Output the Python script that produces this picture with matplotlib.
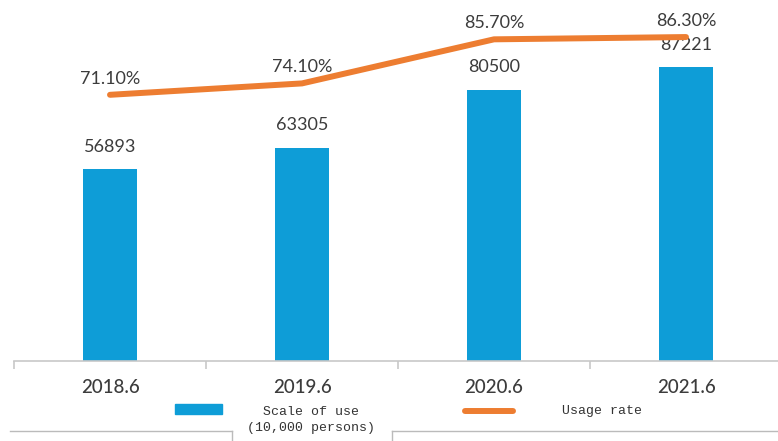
import matplotlib
matplotlib.use('Agg')
import matplotlib.pyplot as plt
from matplotlib.patches import Rectangle
from matplotlib.lines import Line2D

periods = ['2018.6', '2019.6', '2020.6', '2021.6']
users = [56893, 63305, 80500, 87221]          # scale of use, 10,000 persons
rate = [71.1, 74.1, 85.7, 86.3]               # usage rate, %
rate_labels = ['71.10%', '74.10%', '85.70%', '86.30%']

blue = '#0E9DD7'
orange = '#ED7D31'
grey = '#3C3C3C'

plt.rcParams['font.family'] = ['Lato', 'DejaVu Sans']

W, H = 778, 441
fig = plt.figure(figsize=(W/100, H/100), dpi=100)
ax = fig.add_axes([14/W, 80/H, 768/W, 361/H])

x = list(range(len(periods)))
ax.bar(x, users, width=0.28, color=blue, zorder=2)
ax.set_xlim(-0.5, 3.5)
ax.set_ylim(0, 107100)

for i, v in enumerate(users):
    ax.annotate(str(v), (i, v), xytext=(0, 16), textcoords='offset points',
                ha='center', va='center', fontsize=13, color=grey)

# axis styling
for s in ['top', 'left', 'right']:
    ax.spines[s].set_visible(False)
ax.spines['bottom'].set_color('#C8C8C8')
ax.spines['bottom'].set_linewidth(1.2)
ax.set_yticks([])
ax.set_xticks(x)
ax.set_xticklabels(periods, fontsize=13.5, color=grey, fontweight='medium')
ax.tick_params(axis='x', which='major', length=0, pad=13)
ax.set_xticks([-0.5, 0.5, 1.5, 2.5, 3.5], minor=True)
ax.tick_params(axis='x', which='minor', length=6, color='#C8C8C8', width=1.2)

ax2 = ax.twinx()
ax2.plot(x, rate, color=orange, lw=4.3, solid_capstyle='round',
         solid_joinstyle='round', zorder=3)
ax2.set_ylim(1.05, 96.05)
ax2.set_yticks([])
for s in ax2.spines.values():
    s.set_visible(False)
for i, (r, lab) in enumerate(zip(rate, rate_labels)):
    ax2.annotate(lab, (i, r), xytext=(0, 11.5), textcoords='offset points',
                 ha='center', va='center', fontsize=13, color=grey)

# legend drawn by hand below the axis
fig.add_artist(Rectangle((175/W, 1 - 414/H), 47/W, 10/H, transform=fig.transFigure,
                         color=blue))
fig.add_artist(Line2D([465/W, 513/W], [1 - 411/H] * 2, transform=fig.transFigure,
                      color=orange, lw=4.3, solid_capstyle='round'))
fig.text(311/W, 1 - 420/H, 'Scale of use\n(10,000 persons)', ha='center', va='center',
         family='Liberation Mono', fontsize=9.5, color='#333333', linespacing=1.45)
fig.text(562/W, 1 - 411/H, 'Usage rate', ha='left', va='center',
         family='Liberation Mono', fontsize=9.5, color='#333333')

# thin frame lines around legend area
lc = '#BBBBBB'
fig.add_artist(Line2D([10/W, 232/W], [1 - 431/H] * 2, transform=fig.transFigure, color=lc, lw=1))
fig.add_artist(Line2D([392/W, 1], [1 - 431/H] * 2, transform=fig.transFigure, color=lc, lw=1))
fig.add_artist(Line2D([232/W, 232/W], [1 - 431/H, 0], transform=fig.transFigure, color=lc, lw=1))
fig.add_artist(Line2D([392/W, 392/W], [1 - 431/H, 0], transform=fig.transFigure, color=lc, lw=1))

fig.savefig('out.png', dpi=100)
